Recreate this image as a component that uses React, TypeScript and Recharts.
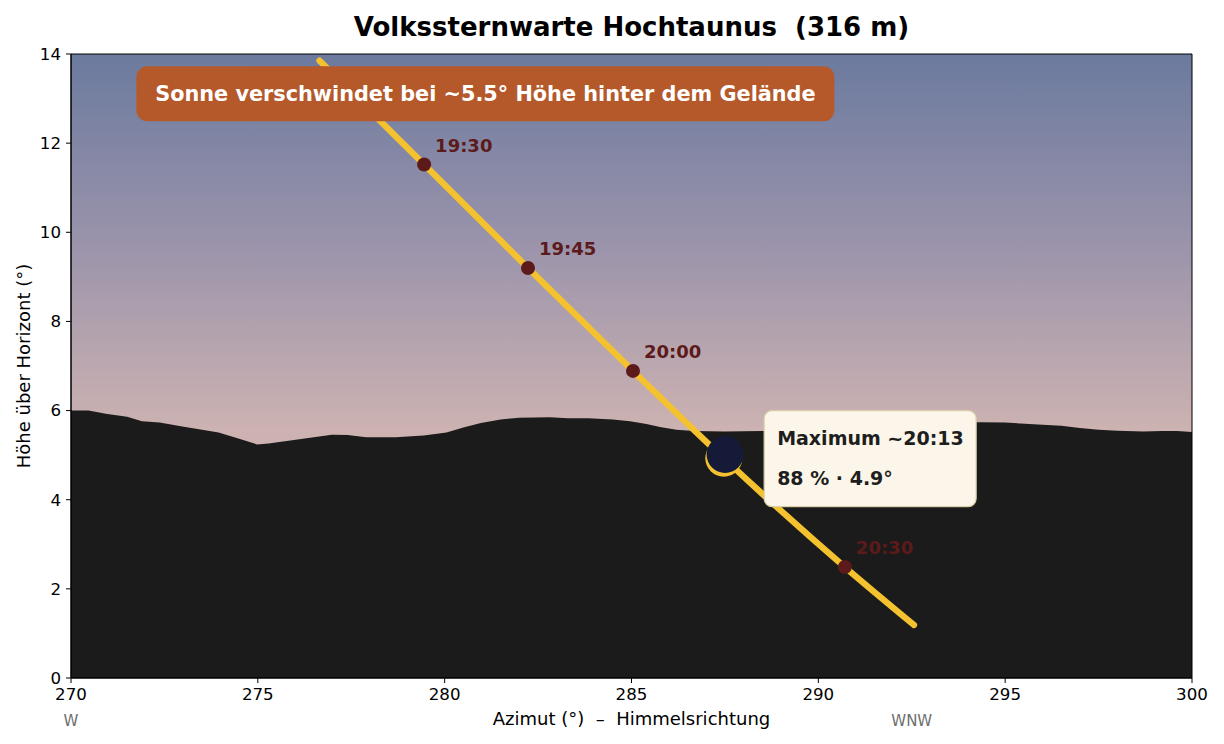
import React from 'react';
import {
  ComposedChart,
  XAxis,
  YAxis,
  Area,
  Line,
  Scatter,
  ReferenceArea,
  ReferenceDot,
  ReferenceLine,
} from 'recharts';

// ---- data ----
const azTicks = [270, 275, 280, 285, 290, 295, 300];
const elTicks = [0, 2, 4, 6, 8, 10, 12, 14];

const terrainAz = [
  270.0, 270.47, 270.93, 271.5, 271.9, 272.37, 272.98, 273.95, 274.5, 274.98, 275.29, 276.06,
  276.98, 277.4, 277.9, 278.7, 279.44, 280.05, 280.5, 280.97, 281.5, 281.99, 282.81, 283.3,
  283.84, 284.5, 284.96, 285.4, 285.76, 286.2, 286.67, 287.5, 288.5, 289.5, 290.5, 291.5,
  292.5, 293.5, 294.33, 295.0, 295.88, 296.5, 297.0, 297.5, 298.0, 298.7, 299.2, 299.6, 300.0,
];
const terrainEl = [
  6.0, 6.0, 5.93, 5.86, 5.76, 5.73, 5.64, 5.51, 5.37, 5.24, 5.26, 5.35,
  5.46, 5.45, 5.4, 5.4, 5.44, 5.51, 5.62, 5.72, 5.8, 5.84, 5.85, 5.83,
  5.83, 5.8, 5.76, 5.7, 5.63, 5.57, 5.54, 5.53, 5.54, 5.58, 5.62, 5.66,
  5.7, 5.73, 5.74, 5.73, 5.69, 5.66, 5.61, 5.57, 5.55, 5.53, 5.54, 5.54, 5.52,
];

const sunAz = [276.65, 279.45, 282.23, 285.04, 287.47, 290.71, 292.56];
const sunEl = [13.85, 11.52, 9.2, 6.89, 4.93, 2.49, 1.19];

const markerTimes = ['19:30', '19:45', '20:00', '20:30'];
const markerAz = [279.45, 282.23, 285.04, 290.71];
const markerEl = [11.52, 9.2, 6.89, 2.49];

const maxAz = 287.47;
const maxEl = 4.93;
const maxTime = '20:13';
const maxPct = 88;
const maxElLabel = 4.9;

const directions = [
  { az: 270, label: 'W' },
  { az: 292.5, label: 'WNW' },
];

const title = 'Volkssternwarte Hochtaunus  (316 m)';
const banner = 'Sonne verschwindet bei ~5.5° Höhe hinter dem Gelände';

const terrain = terrainAz.map((az, i) => ({ az, el: terrainEl[i] }));
const sunPath = sunAz.map((az, i) => ({ az, el: sunEl[i] }));
const markers = markerAz.map((az, i) => ({ az, el: markerEl[i], t: markerTimes[i] }));

// ---- styles ----
const FONT = '"DejaVu Sans", Verdana, sans-serif';
const SUN = '#f4c22e';
const MAROON = '#5c1a1a';

const SkyShape = (props: any) => {
  const { x, y, width, height } = props;
  return (
    <g>
      <defs>
        <linearGradient id="skyGrad" x1="0" y1="0" x2="0" y2="1">
          <stop offset="0" stopColor="#6b7a9e" />
          <stop offset="0.3" stopColor="#9a93ab" />
          <stop offset="0.6" stopColor="#ccb2b1" />
          <stop offset="1" stopColor="#dbbcb0" />
        </linearGradient>
      </defs>
      <rect x={x} y={y} width={width} height={height} fill="url(#skyGrad)" />
    </g>
  );
};

const MarkerShape = (props: any) => {
  const { cx, cy, payload } = props;
  return (
    <g>
      <circle cx={cx} cy={cy} r={7} fill={MAROON} />
      <text
        x={cx + 11}
        y={cy - 13}
        fill={MAROON}
        fontFamily={FONT}
        fontWeight="bold"
        fontSize={18}
      >
        {payload.t}
      </text>
    </g>
  );
};

const EclipseShape = (props: any) => {
  const { cx, cy } = props;
  return (
    <g>
      <circle cx={cx} cy={cy} r={18.5} fill={SUN} />
      <circle cx={cx + 1.3} cy={cy - 3.8} r={18.5} fill="#151a38" />
    </g>
  );
};

const InfoBox = (props: any) => {
  const { cx, cy } = props;
  return (
    <g>
      <rect x={cx} y={cy} width={212} height={96} rx={8} ry={8} fill="#fbf6e9" stroke="#d8cfa8" strokeWidth={1.2} />
      <text x={cx + 13} y={cy + 34} fill="#1e1e1e" fontFamily={FONT} fontWeight="bold" fontSize={19} style={{ whiteSpace: 'pre' }}>
        {`Maximum ~${maxTime}`}
      </text>
      <text x={cx + 13} y={cy + 74} fill="#1e1e1e" fontFamily={FONT} fontWeight="bold" fontSize={19} style={{ whiteSpace: 'pre' }}>
        {`${maxPct} % · ${maxElLabel}°`}
      </text>
    </g>
  );
};

const BannerBox = (props: any) => {
  const { cx, cy } = props;
  return (
    <g>
      <rect x={cx - 349} y={cy - 27.5} width={698} height={55} rx={11} ry={11} fill="#b5592a" />
      <text
        x={cx}
        y={cy + 7.5}
        textAnchor="middle"
        fill="#ffffff"
        fontFamily={FONT}
        fontWeight="bold"
        fontSize={20.8}
        style={{ whiteSpace: 'pre' }}
      >
        {banner}
      </text>
    </g>
  );
};

const XLabel = (props: any) => {
  const vb = props.viewBox || {};
  return (
    <text
      x={vb.x + vb.width / 2}
      y={724.5}
      textAnchor="middle"
      fill="#000"
      fontFamily={FONT}
      fontSize={18}
      style={{ whiteSpace: 'pre' }}
    >
      {'Azimut (°)  –  Himmelsrichtung'}
    </text>
  );
};

const YLabel = (props: any) => {
  const vb = props.viewBox || {};
  const cy = vb.y + vb.height / 2;
  return (
    <text
      transform={`translate(30, ${cy}) rotate(-90)`}
      textAnchor="middle"
      fill="#000"
      fontFamily={FONT}
      fontSize={18}
    >
      Höhe über Horizont (°)
    </text>
  );
};

const makeDirLabel = (label: string) => (props: any) => {
  const vb = props.viewBox || {};
  return (
    <text
      x={vb.x}
      y={vb.y + vb.height + 47.5}
      textAnchor="middle"
      fill="#6e6e6e"
      fontFamily={FONT}
      fontSize={15}
    >
      {label}
    </text>
  );
};

export default function App() {
  return (
    <div
      style={{
        position: 'absolute',
        left: 0,
        top: 0,
        width: 1224,
        height: 744,
        background: '#ffffff',
        fontFamily: FONT,
      }}
    >
      <div
        style={{
          position: 'absolute',
          left: 71,
          width: 1121,
          top: 11,
          height: 32,
          lineHeight: '32px',
          textAlign: 'center',
          fontWeight: 'bold',
          fontSize: 26,
          color: '#000',
          whiteSpace: 'pre',
          fontFamily: FONT,
        }}
      >
        {title}
      </div>
      <ComposedChart
        width={1224}
        height={744}
        margin={{ top: 54, right: 32, bottom: 36, left: 0 }}
        style={{ position: 'absolute', left: 0, top: 0 }}
      >
        <XAxis
          type="number"
          dataKey="az"
          domain={[270, 300]}
          ticks={azTicks}
          allowDataOverflow
          height={30}
          tickSize={5}
          tickMargin={5}
          tick={{ fill: '#000', fontSize: 16.67, fontFamily: FONT }}
          tickLine={{ stroke: '#000' }}
          axisLine={{ stroke: '#000' }}
          label={<XLabel />}
        />
        <YAxis
          type="number"
          dataKey="el"
          domain={[0, 14]}
          ticks={elTicks}
          allowDataOverflow
          width={71}
          tickSize={5}
          tickMargin={5}
          tick={{ fill: '#000', fontSize: 16.67, fontFamily: FONT }}
          tickLine={{ stroke: '#000' }}
          axisLine={{ stroke: '#000' }}
          label={<YLabel />}
        />
        <ReferenceArea
          x1={270}
          x2={300}
          y1={0}
          y2={14}
          shape={<SkyShape />}
          ifOverflow="visible"
          zIndex={-150}
        />
        <Area
          data={terrain}
          dataKey="el"
          type="linear"
          fill="#1b1b1b"
          fillOpacity={1}
          stroke="none"
          isAnimationActive={false}
          zIndex={100}
        />
        <Line
          data={sunPath}
          dataKey="el"
          type="monotone"
          stroke={SUN}
          strokeWidth={6.3}
          strokeLinecap="round"
          dot={false}
          activeDot={false}
          isAnimationActive={false}
          zIndex={400}
        />
        <Scatter
          data={markers}
          dataKey="el"
          shape={<MarkerShape />}
          isAnimationActive={false}
          zIndex={600}
        />
        <ReferenceDot x={maxAz} y={maxEl} shape={<EclipseShape />} ifOverflow="visible" zIndex={700} />
        <ReferenceDot x={288.55} y={6.0} shape={<InfoBox />} ifOverflow="visible" zIndex={800} />
        <ReferenceDot x={281.09} y={13.11} shape={<BannerBox />} ifOverflow="visible" zIndex={800} />
        {directions.map((d) => (
          <ReferenceLine
            key={d.label}
            x={d.az}
            stroke="none"
            strokeOpacity={0}
            ifOverflow="visible"
            label={makeDirLabel(d.label)}
          />
        ))}
        <ReferenceArea
          x1={270}
          x2={300}
          y1={0}
          y2={14}
          fill="none"
          fillOpacity={0}
          stroke="#000"
          strokeWidth={1}
          ifOverflow="visible"
          zIndex={900}
        />
      </ComposedChart>
    </div>
  );
}
